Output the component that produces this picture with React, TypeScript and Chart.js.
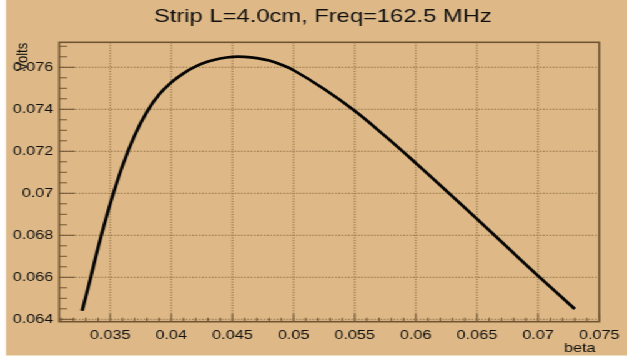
import React, { useEffect, useRef } from 'react';
import { Chart, registerables } from 'chart.js';

Chart.register(...registerables);

// ---- data ----
const betaValues = [
  0.0327, 0.0334, 0.034, 0.035, 0.036, 0.037, 0.038, 0.039, 0.04, 0.041,
  0.042, 0.043, 0.044, 0.045, 0.046, 0.047, 0.048, 0.049, 0.05, 0.0525,
  0.055, 0.0575, 0.06, 0.0625, 0.065, 0.0675, 0.07, 0.073,
];
const voltValues = [
  0.06441, 0.06598, 0.0674, 0.0695, 0.0713, 0.07276, 0.07388, 0.0747, 0.07528, 0.07571,
  0.07604, 0.07627, 0.07642, 0.0765, 0.0765, 0.07644, 0.07632, 0.07612, 0.07586, 0.07497,
  0.07393, 0.07272, 0.07144, 0.07012, 0.06878, 0.06742, 0.06607, 0.06449,
];
const xTickValues = [0.035, 0.04, 0.045, 0.05, 0.055, 0.06, 0.065, 0.07, 0.075];
const xTickLabels = ['0.035', '0.04', '0.045', '0.05', '0.055', '0.06', '0.065', '0.07', '0.075'];
const yTickValues = [0.064, 0.066, 0.068, 0.07, 0.072, 0.074, 0.076];
const yTickLabels = ['0.064', '0.066', '0.068', '0.07', '0.072', '0.074', '0.076'];
const chartTitle = 'Strip L=4.0cm, Freq=162.5 MHz';
const xTitle = 'beta';
const yTitle = 'Volts';

// ---- layout / style ----
const STRETCH = 1.249;
const W = 502;
const H = 359;
const FONT = '"Liberation Sans", Arial, Helvetica, sans-serif';
const BG = 'rgb(222,185,135)';
const FRAME = 'rgb(112,85,52)';
const GRID = 'rgb(138,104,64)';
const TEXT = '#101010';

const X_MIN = 0.03083;
const X_MAX = 0.075;
const Y_MIN = 0.063886;
const Y_MAX = 0.07719;

const findLabel = (vals: number[], labels: string[], v: number) => {
  const i = vals.findIndex((t) => Math.abs(t - v) < 1e-9);
  return i >= 0 ? labels[i] : '';
};

const decorPlugin = {
  id: 'rootDecor',
  beforeDraw(chart: any) {
    const ctx = chart.ctx;
    ctx.save();
    ctx.fillStyle = '#ffffff';
    ctx.fillRect(0, 0, W, H);
    ctx.fillStyle = BG;
    ctx.fillRect(4.8, 0, W - 4.8, 355.5);
    ctx.restore();
  },
  beforeDatasetsDraw(chart: any) {
    const ctx = chart.ctx;
    const { left, right, top, bottom } = chart.chartArea;
    const xs = chart.scales.x;
    const ys = chart.scales.y;
    ctx.save();
    // dotted grid
    ctx.strokeStyle = GRID;
    ctx.lineWidth = 1;
    ctx.setLineDash([1.2, 1.4]);
    xTickValues.forEach((v) => {
      const px = xs.getPixelForValue(v);
      if (px > left + 1 && px < right - 1) {
        ctx.beginPath();
        ctx.moveTo(px, top);
        ctx.lineTo(px, bottom);
        ctx.stroke();
      }
    });
    yTickValues.forEach((v) => {
      const py = ys.getPixelForValue(v);
      if (py > top + 1 && py < bottom - 1) {
        ctx.beginPath();
        ctx.moveTo(left, py);
        ctx.lineTo(right, py);
        ctx.stroke();
      }
    });
    ctx.setLineDash([]);
    // ticks
    ctx.strokeStyle = FRAME;
    ctx.lineWidth = 1;
    for (let k = 31; k <= 75; k++) {
      const v = k / 1000;
      const px = xs.getPixelForValue(v);
      if (px < left || px > right) continue;
      const major = k % 5 === 0;
      ctx.beginPath();
      ctx.moveTo(px, bottom);
      ctx.lineTo(px, bottom - (major ? 8 : 4));
      ctx.stroke();
    }
    for (let k = 128; k <= 154; k++) {
      const v = k / 2000;
      const py = ys.getPixelForValue(v);
      if (py < top || py > bottom) continue;
      const major = k % 4 === 0;
      ctx.beginPath();
      ctx.moveTo(left, py);
      ctx.lineTo(left + (major ? 12.5 : 6.3), py);
      ctx.stroke();
    }
    // frame
    ctx.lineWidth = 1.6;
    ctx.strokeRect(left, top, right - left, bottom - top);
    ctx.restore();
  },
  afterDraw(chart: any) {
    const ctx = chart.ctx;
    const { right, top } = chart.chartArea;
    ctx.save();
    ctx.fillStyle = TEXT;
    ctx.font = `19px ${FONT}`;
    ctx.textAlign = 'center';
    ctx.textBaseline = 'middle';
    ctx.fillText(chartTitle, 258.5, 16.5);
    ctx.font = `13px ${FONT}`;
    ctx.textAlign = 'right';
    ctx.fillText(xTitle, right - 3, 348);
    ctx.translate(18, top + 0.5);
    ctx.rotate(-Math.PI / 2);
    ctx.textAlign = 'right';
    ctx.textBaseline = 'middle';
    ctx.fillText(yTitle, 0, 0);
    ctx.restore();
  },
};

export default function App() {
  const canvasRef = useRef<HTMLCanvasElement | null>(null);

  useEffect(() => {
    if (!canvasRef.current) return;
    const chart = new Chart(canvasRef.current, {
      type: 'line',
      data: {
        datasets: [
          {
            data: betaValues.map((b, i) => ({ x: b, y: voltValues[i] })),
            borderColor: '#050505',
            borderWidth: 2.7,
            pointRadius: 0,
            fill: false,
            tension: 0.4,
            cubicInterpolationMode: 'default',
          },
        ],
      },
      options: {
        responsive: false,
        animation: false,
        events: [],
        layout: { padding: { top: 42.3, right: W - 482.8, left: 0, bottom: 0 } },
        plugins: {
          legend: { display: false },
          title: { display: false },
          tooltip: { enabled: false },
        },
        scales: {
          x: {
            type: 'linear',
            min: X_MIN,
            max: X_MAX,
            afterBuildTicks: (s: any) => {
              s.ticks = xTickValues.map((v) => ({ value: v }));
            },
            afterFit: (s: any) => {
              s.height = H - 321.7;
            },
            grid: { display: false, drawTicks: false },
            border: { display: false },
            ticks: {
              autoSkip: false,
              maxRotation: 0,
              minRotation: 0,
              padding: 6,
              color: TEXT,
              font: { family: FONT, size: 13 },
              callback: (v: any) => findLabel(xTickValues, xTickLabels, Number(v)),
            },
          },
          y: {
            type: 'linear',
            min: Y_MIN,
            max: Y_MAX,
            afterBuildTicks: (s: any) => {
              s.ticks = yTickValues.map((v) => ({ value: v }));
            },
            afterFit: (s: any) => {
              s.width = 47.4;
            },
            grid: { display: false, drawTicks: false },
            border: { display: false },
            ticks: {
              autoSkip: false,
              padding: 4.6,
              color: TEXT,
              font: { family: FONT, size: 13 },
              callback: (v: any) => findLabel(yTickValues, yTickLabels, Number(v)),
            },
          },
        },
      },
      plugins: [decorPlugin],
    } as any);
    return () => chart.destroy();
  }, []);

  return (
    <div
      style={{
        position: 'fixed',
        left: 0,
        top: 0,
        width: W,
        height: H,
        transform: `scaleX(${STRETCH})`,
        transformOrigin: '0 0',
        background: '#fff',
      }}
    >
      <canvas ref={canvasRef} width={W} height={H} style={{ width: W, height: H, display: 'block' }} />
    </div>
  );
}
